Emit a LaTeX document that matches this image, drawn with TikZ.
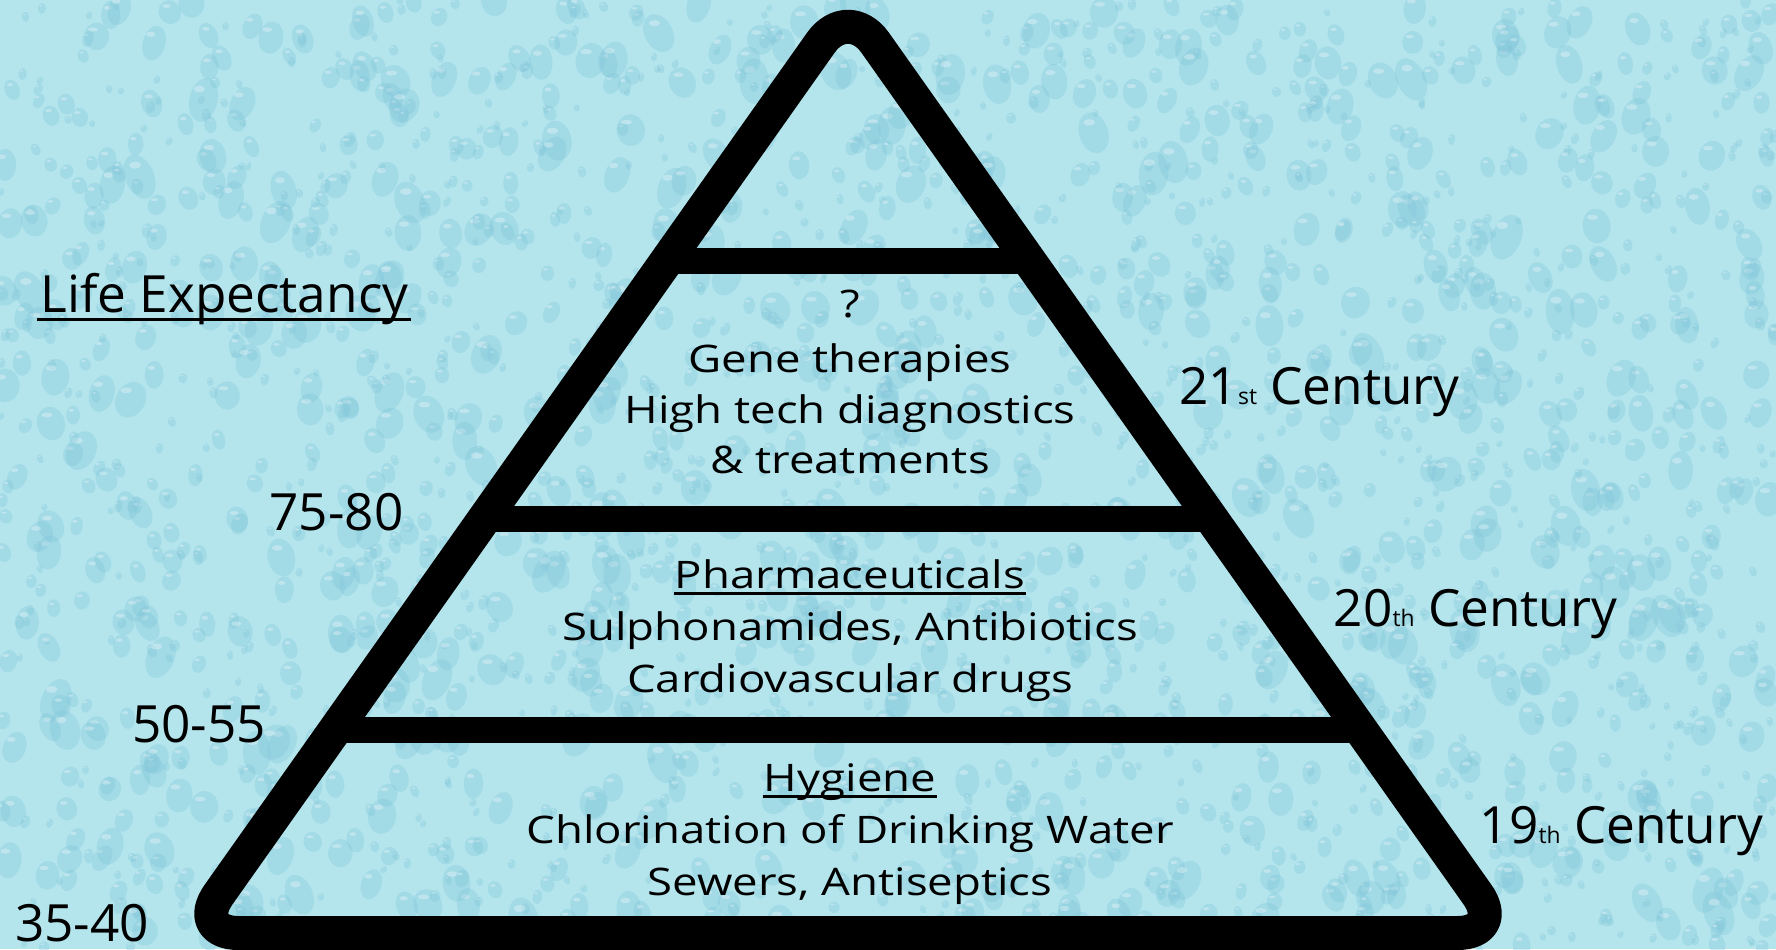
\documentclass[tikz,border=0pt]{standalone}
\usepackage{fontspec}
\setmainfont{Open Sans}
\newfontfamily\widefont[FakeStretch=1.2]{Open Sans}
\usetikzlibrary{calc}

\definecolor{water}{RGB}{180,229,237}
\definecolor{drop}{RGB}{130,198,218}
\tikzstyle{frame} = [line width=0.34cm, rounded corners=0.47cm, line join=round]
\tikzstyle{shelf} = [line width=0.26cm]
\tikzstyle{layer} = [inner sep=0pt, anchor=base, font=\widefont\fontsize{10.8}{13}\selectfont]
\tikzstyle{side} = [inner sep=0pt, anchor=base, font=\fontsize{14.6}{17}\selectfont]
\tikzstyle{uline} = [line width=0.035cm]
\newcommand{\ordsuf}[1]{{\fontsize{6.5}{7}\selectfont #1}}

\begin{document}
\begin{tikzpicture}
\fill[water] (0,0) rectangle (17.76,9.49);
\useasboundingbox (0,0) rectangle (17.76,9.49);
% water drops
\pgfmathsetseed{42}
\begin{scope}
\clip (0,0) rectangle (17.76,9.49);
\foreach \i in {1,...,2400}{
    \pgfmathsetmacro{\dx}{17.76*rnd}
    \pgfmathsetmacro{\dy}{9.49*rnd}
    \pgfmathsetmacro{\rx}{0.03+0.12*rnd^2}
    \pgfmathsetmacro{\ry}{\rx*(1.1+0.5*rnd)}
    \fill[drop, opacity=0.35, rotate around={-30+60*rnd:(\dx,\dy)}] (\dx,\dy) ellipse ({\rx} and {\ry});
    \fill[white, opacity=0.3] (\dx-0.3*\rx,\dy+0.5*\ry) ellipse ({0.4*\rx} and {0.15*\ry});
}
\end{scope}

\coordinate (top) at (8.48,9.447);
\coordinate (left) at (1.914,0.16);
\coordinate (right) at (15.046,0.16);
\draw[frame] (left) -- (top) -- (right) -- cycle;
\foreach \t in {0.276,0.554,0.781}
    \draw[shelf] ($(top)!\t!(left)$) -- ($(top)!\t!(right)$);

\node[layer] (q) at (8.5,6.32) {?};
\node[layer] (gene) at (8.5,5.77) {Gene therapies};
\node[layer] (hightech) at (8.5,5.26) {High tech diagnostics};
\node[layer] (treat) at (8.5,4.76) {\& treatments};
\node[layer] (pharma) at (8.5,3.61) {Pharmaceuticals};
\node[layer] (sulpha) at (8.5,3.09) {Sulphonamides, Antibiotics};
\node[layer] (cardio) at (8.5,2.57) {Cardiovascular drugs};
\node[layer] (hyg) at (8.5,1.58) {Hygiene};
\node[layer] (chlor) at (8.5,1.06) {Chlorination of Drinking Water};
\node[layer] (sewer) at (8.5,0.54) {Sewers, Antiseptics};
\draw[uline] ([yshift=-0.055cm]pharma.base west) -- ([yshift=-0.055cm]pharma.base east);
\draw[uline] ([yshift=-0.055cm]hyg.base west) -- ([yshift=-0.055cm]hyg.base east);

\node[side] (life) at (2.245,6.37) {Life Expectancy};
\draw[uline] ([xshift=-0.03cm,yshift=-0.075cm]life.base west) -- ([xshift=0.02cm,yshift=-0.075cm]life.base east);
\node[side] (age80) at (3.365,4.19) {75-80};
\node[side] (age55) at (1.99,2.07) {50-55};
\node[side] (age40) at (0.82,0.08) {35-40};

\node[side] (c21) at (13.195,5.45) {21\ordsuf{st} Century};
\node[side] (c20) at (14.755,3.23) {20\ordsuf{th} Century};
\node[side] (c19) at (16.215,1.06) {19\ordsuf{th} Century};
\end{tikzpicture}
\end{document}
